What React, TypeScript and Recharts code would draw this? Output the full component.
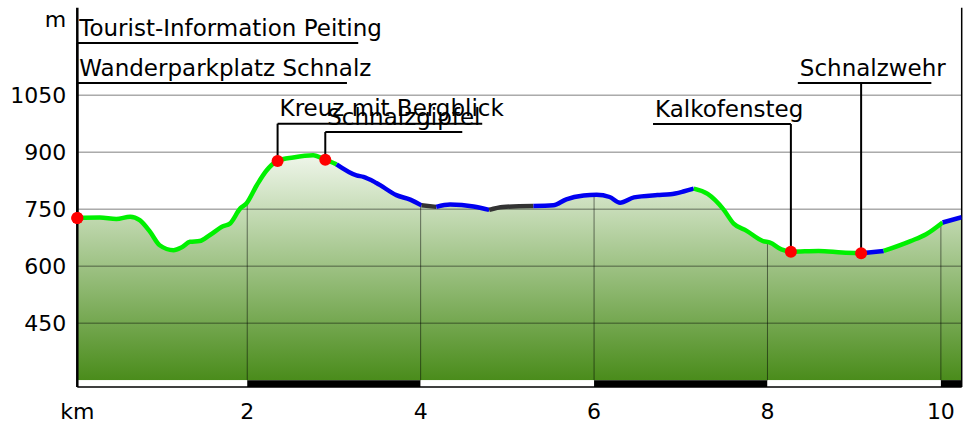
import React from 'react';
import {
  ComposedChart,
  Area,
  Line,
  XAxis,
  YAxis,
  ReferenceLine,
  ReferenceArea,
  ReferenceDot,
} from 'recharts';

const FONT = '"DejaVu Sans", Verdana, sans-serif';

// ---- data ----
const kmValues = [
  0.04, 0.3, 0.49, 0.65, 0.76, 0.88, 0.99, 1.15, 1.24, 1.34, 1.45, 1.57, 1.72, 1.8, 1.92, 1.99,
  2.11, 2.22, 2.35, 2.53, 2.76, 2.9, 3.03, 3.26, 3.34, 3.49, 3.72, 3.88, 4.01, 4.18, 4.34, 4.61,
  4.79, 4.95, 5.3, 5.53, 5.68, 5.88, 6.03, 6.18, 6.3, 6.46, 6.73, 6.88, 7.04, 7.15, 7.31, 7.49,
  7.61, 7.76, 7.95, 8.03, 8.16, 8.27, 8.59, 8.86, 9.08, 9.34, 9.65, 9.83, 10.02, 10.24,
];
const elevation = [
  727, 728, 724, 730, 721, 690, 655, 642, 649, 664, 666, 682, 705, 712, 752, 765,
  813, 851, 877, 886, 892, 880, 868, 839, 835, 819, 787, 775, 760, 756, 762, 757,
  748, 756, 758, 760, 776, 786, 788, 782, 767, 781, 787, 789, 797, 804, 790, 750,
  712, 693, 666, 662, 644, 638, 640, 636, 634, 640, 666, 684, 715, 729,
];

// surface segments of the route (km from, km to, colour)
const segmentFrom = [0.04, 3.03, 4.01, 4.18, 4.79, 5.3, 7.15, 9.08, 9.34, 10.02];
const segmentTo = [3.03, 4.01, 4.18, 4.79, 5.3, 7.15, 9.08, 9.34, 10.02, 10.24];
const segmentColor = ['#00f000', '#0000f0', '#333333', '#0000f0', '#333333', '#0000f0', '#00f000', '#0000f0', '#00f000', '#0000f0'];

// waypoints
const waypointNames = [
  'Tourist-Information Peiting',
  'Wanderparkplatz Schnalz',
  'Kreuz mit Bergblick',
  'Schnalzgipfel',
  'Kalkofensteg',
  'Schnalzwehr',
];
const waypointKm = [0.04, 0.04, 2.35, 2.9, 8.27, 9.08];
const waypointElev = [727, 727, 877, 880, 638, 634];

// ticks
const xTicks = [0.04, 2, 4, 6, 8, 10];
const yTicks = [450, 600, 750, 900, 1050, 1250];
const yGrid = [450, 600, 750, 900, 1050];

// ---- layout (annotation placement, data units) ----
const X_MIN = 0.04;
const X_MAX = 10.24;
const Y_MIN = 282;
const Y_MAX = 1280;
const BASE = 300;
const labelLevel = [1187, 1082, 975, 953, 974, 1082];
const underlineFrom = [0.04, 0.04, 2.35, 2.9, 6.68, 8.35];
const underlineTo = [3.28, 3.15, 4.71, 4.48, 8.27, 9.89];

const data = kmValues.map((k, i) => {
  const row: Record<string, number | null> = { km: k, elev: elevation[i] };
  segmentFrom.forEach((f, s) => {
    row['s' + s] = k >= f - 1e-9 && k <= segmentTo[s] + 1e-9 ? elevation[i] : null;
  });
  return row;
});

const elevAt = (k: number) => {
  for (let i = 0; i < kmValues.length - 1; i++) {
    if (k >= kmValues[i] && k <= kmValues[i + 1]) {
      const t = (k - kmValues[i]) / (kmValues[i + 1] - kmValues[i]);
      return elevation[i] + t * (elevation[i + 1] - elevation[i]);
    }
  }
  return elevation[elevation.length - 1];
};

const stripBounds = [X_MIN, 2, 4, 6, 8, 10, X_MAX];

export default function App() {
  return (
    <div style={{ position: 'absolute', left: 0, top: 0 }}>
      <ComposedChart
        width={969}
        height={426}
        data={data}
        margin={{ top: 7.76, right: 7.3, bottom: 0, left: 0 }}
      >
        <defs>
          <linearGradient id="terrain" x1="0" y1="0" x2="0" y2="1">
            <stop offset="0%" stopColor="#eff6ea" />
            <stop offset="100%" stopColor="#4a8c1b" />
          </linearGradient>
        </defs>
        <XAxis
          type="number"
          dataKey="km"
          domain={[X_MIN, X_MAX]}
          ticks={xTicks}
          interval={0}
          tickFormatter={(v: number) => (v === X_MIN ? 'km' : String(v))}
          axisLine={{ stroke: '#000', strokeWidth: 1.5 }}
          tickLine={false}
          tickSize={0}
          tickMargin={16}
          height={39}
          allowDataOverflow
          tick={{ fontFamily: FONT, fontSize: 22, fill: '#000' }}
        />
        <YAxis
          type="number"
          domain={[Y_MIN, Y_MAX]}
          ticks={yTicks}
          interval={0}
          tickFormatter={(v: number) => (v === 1250 ? 'm' : String(v))}
          axisLine={{ stroke: '#000', strokeWidth: 2.5 }}
          tickLine={false}
          tickSize={0}
          tickMargin={11}
          width={77.3}
          allowDataOverflow
          tick={{ fontFamily: FONT, fontSize: 22, fill: '#000' }}
        />
        <Area
          dataKey="elev"
          type="monotone"
          stroke="none"
          fill="url(#terrain)"
          fillOpacity={1}
          baseValue={BASE}
          isAnimationActive={false}
          activeDot={false}
        />
        {stripBounds.slice(0, -1).map((b, i) => (
          <ReferenceArea
            key={'strip' + i}
            x1={b}
            x2={stripBounds[i + 1]}
            y1={Y_MIN}
            y2={BASE}
            fill={i % 2 === 0 ? '#ffffff' : '#000000'}
            fillOpacity={1}
            stroke="none"
          />
        ))}
        {yGrid.map((v) => (
          <ReferenceLine key={'gy' + v} y={v} stroke="#000" strokeOpacity={0.5} strokeWidth={1} />
        ))}
        {xTicks.slice(1).map((v) => (
          <ReferenceLine
            key={'gx' + v}
            segment={[
              { x: v, y: BASE },
              { x: v, y: elevAt(v) },
            ]}
            stroke="#000"
            strokeOpacity={0.5}
            strokeWidth={1}
          />
        ))}
        <ReferenceLine x={X_MAX} stroke="#000" strokeWidth={1.5} />
        {segmentFrom.map((_, s) => (
          <Line
            key={'seg' + s}
            dataKey={'s' + s}
            type="monotone"
            stroke={segmentColor[s]}
            strokeWidth={4.5}
            dot={false}
            activeDot={false}
            connectNulls={false}
            isAnimationActive={false}
          />
        ))}
        {waypointNames.map((name, i) => (
          <ReferenceLine
            key={'lead' + i}
            segment={[
              { x: waypointKm[i], y: waypointElev[i] },
              { x: waypointKm[i], y: labelLevel[i] },
            ]}
            stroke="#000"
            strokeWidth={2}
          />
        ))}
        {waypointNames.map((name, i) => (
          <ReferenceLine
            key={'under' + i}
            segment={[
              { x: underlineFrom[i], y: labelLevel[i] },
              { x: underlineTo[i], y: labelLevel[i] },
            ]}
            stroke="#000"
            strokeWidth={2}
            label={{
              content: (p: any) => (
                <text
                  x={(p.viewBox?.x ?? 0) + 2}
                  y={(p.viewBox?.y ?? 0) - 7.5}
                  fontFamily={FONT}
                  fontSize={23}
                  fill="#000"
                >
                  {name}
                </text>
              ),
            }}
          />
        ))}
        {waypointNames.map((name, i) => (
          <ReferenceDot
            key={'dot' + i}
            x={waypointKm[i]}
            y={waypointElev[i]}
            r={6}
            fill="#ff0000"
            stroke="none"
          />
        ))}
      </ComposedChart>
    </div>
  );
}
